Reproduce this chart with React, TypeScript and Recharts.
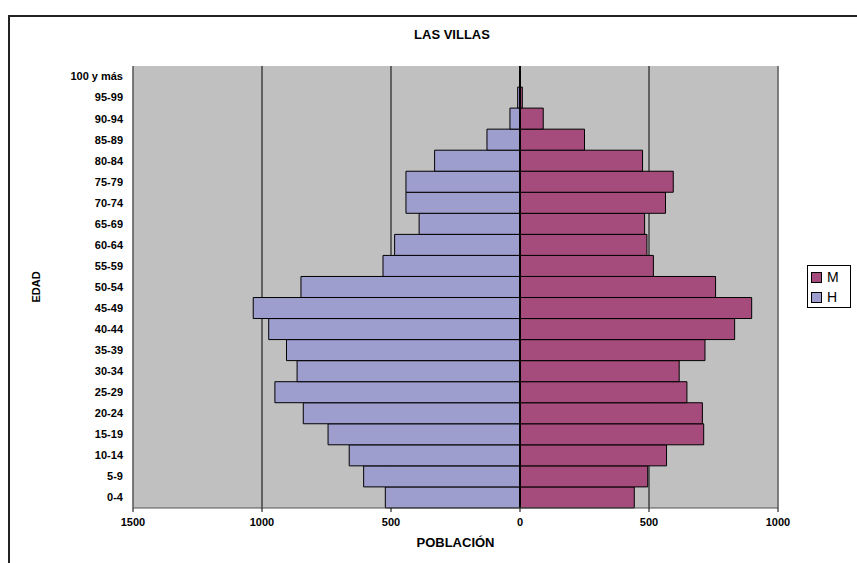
import React from "react";
import {
  BarChart,
  Bar,
  XAxis,
  YAxis,
  CartesianGrid,
  ReferenceLine,
} from "recharts";

// age groups, bottom to top
const EDADES = [
  "0-4", "5-9", "10-14", "15-19", "20-24", "25-29", "30-34", "35-39", "40-44",
  "45-49", "50-54", "55-59", "60-64", "65-69", "70-74", "75-79", "80-84",
  "85-89", "90-94", "95-99", "100 y más",
];

const HOMBRES = [
  522, 606, 662, 744, 840, 950, 864, 905, 974, 1034, 849, 531, 486, 391, 442,
  442, 331, 128, 39, 9, 0,
];

const MUJERES = [
  443, 495, 568, 712, 707, 647, 617, 717, 832, 898, 758, 517, 492, 483, 564,
  594, 475, 250, 90, 9, 0,
];

const X_TICKS = [-1500, -1000, -500, 0, 500, 1000];

const COLOR_H = "#9E9ECE";
const COLOR_M = "#A64C7C";
const FONT = "'Liberation Sans', Arial, sans-serif";

const data = EDADES.map((edad, i) => ({
  edad,
  H: -HOMBRES[i],
  M: MUJERES[i],
}));

function EdadLabel({ viewBox }: { viewBox?: { x: number; y: number; height: number } }) {
  if (!viewBox) return null;
  const cx = 36;
  const cy = viewBox.y + viewBox.height / 2;
  return (
    <text
      x={cx}
      y={cy}
      transform={`rotate(-90, ${cx}, ${cy})`}
      textAnchor="middle"
      dominantBaseline="central"
      fontFamily={FONT}
      fontWeight="bold"
      fontSize={11}
      fill="#000"
    >
      EDAD
    </text>
  );
}

function LegendBox() {
  const item = (label: string, color: string) => (
    <div style={{ display: "flex", alignItems: "center", height: 20 }}>
      <span
        style={{
          width: 9,
          height: 9,
          background: color,
          border: "1px solid #000",
          marginRight: 5,
        }}
      />
      <span>{label}</span>
    </div>
  );
  return (
    <div
      style={{
        position: "absolute",
        left: 807,
        top: 265,
        width: 44,
        height: 43,
        border: "1px solid #000",
        boxSizing: "border-box",
        padding: "1px 0 0 3px",
        fontFamily: FONT,
        fontSize: 14,
        lineHeight: "20px",
        background: "#fff",
      }}
    >
      {item("M", COLOR_M)}
      {item("H", COLOR_H)}
    </div>
  );
}

export default function App() {
  return (
    <div
      style={{
        position: "absolute",
        left: 0,
        top: 0,
        width: 857,
        height: 563,
        overflow: "hidden",
        background: "#fff",
      }}
    >
      {/* outer frame */}
      <div
        style={{
          position: "absolute",
          left: 8,
          top: 15,
          width: 900,
          height: 600,
          border: "2px solid #222",
        }}
      />
      <div
        style={{
          position: "absolute",
          left: 0,
          width: 904,
          top: 27,
          textAlign: "center",
          fontFamily: FONT,
          fontWeight: "bold",
          fontSize: 13,
        }}
      >
        LAS VILLAS
      </div>
      <div style={{ position: "absolute", left: 0, top: 0 }}>
        <BarChart
          width={857}
          height={563}
          data={data}
          layout="vertical"
          stackOffset="sign"
          barCategoryGap={0}
          margin={{ top: 66, right: 79, left: 33, bottom: 25 }}
        >
          <CartesianGrid
            horizontal={false}
            stroke="#000"
            fill="#C0C0C0"
            fillOpacity={1}
          />
          <XAxis
            type="number"
            domain={[-1500, 1000]}
            ticks={X_TICKS}
            allowDataOverflow
            tickFormatter={(v: number) => String(Math.abs(v))}
            tick={{ fill: "#000", fontSize: 11, fontWeight: "bold", fontFamily: FONT }}
            axisLine={{ stroke: "#555" }}
            tickLine={{ stroke: "#000" }}
            tickSize={4}
            tickMargin={6}
            height={30}
            label={{
              value: "POBLACIÓN",
              position: "bottom",
              offset: 0,
              fill: "#000",
              fontSize: 13,
              fontWeight: "bold",
              fontFamily: FONT,
            }}
          />
          <YAxis
            type="category"
            dataKey="edad"
            reversed
            width={100}
            interval={0}
            tick={{ fill: "#000", fontSize: 11, fontWeight: "bold", fontFamily: FONT }}
            axisLine={{ stroke: "#808080" }}
            tickLine={false}
            tickMargin={4}
            label={<EdadLabel />}
          />
          <ReferenceLine x={1000} stroke="#808080" strokeWidth={1.5} />
          <Bar
            dataKey="H"
            stackId="p"
            fill={COLOR_H}
            stroke="#000"
            strokeWidth={1}
            isAnimationActive={false}
          />
          <Bar
            dataKey="M"
            stackId="p"
            fill={COLOR_M}
            stroke="#000"
            strokeWidth={1}
            isAnimationActive={false}
          />
          <ReferenceLine x={0} stroke="#000" strokeWidth={2} />
        </BarChart>
      </div>
      <LegendBox />
    </div>
  );
}
